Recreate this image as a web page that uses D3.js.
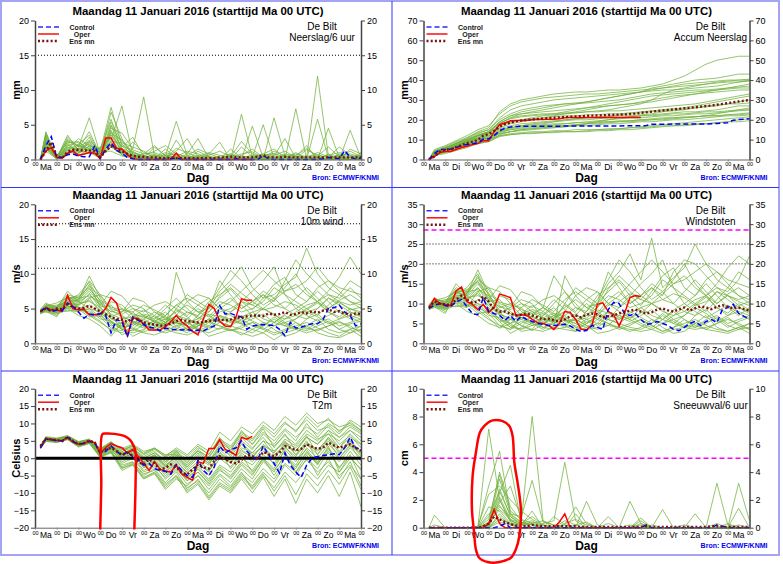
<!DOCTYPE html>
<html>
<head>
<meta charset="utf-8">
<script src="https://cdn.jsdelivr.net/npm/d3@7"></script>
<style>
  body { margin: 0; background: #fff; }
  svg { display: block; }
  text { font-family: "Liberation Sans", Arial, sans-serif; }
</style>
</head>
<body>
<svg id="chart" width="783" height="564"></svg>
<script>
// time steps (hours after start, Ma 11 jan 00 UTC)
var hours6 = d3.range(6, 361, 6);               // control + ens mean, 60 steps
var hoursOper = d3.range(6, 241, 6);            // oper runs 10 days
var hoursMember = [6].concat(d3.range(12, 361, 12)); // members, 31 steps
var dayTicks = d3.range(0, 361, 24);
var dayNames = ["Ma", "Di", "Wo", "Do", "Vr", "Za", "Zo", "Ma", "Di", "Wo", "Do", "Vr", "Za", "Zo", "Ma"];

// ---- Neerslag / 6 uur (mm)
var precipTicks = [0, 5, 10, 15, 20];
var precipLimit = [15];
var precipControl = [0,2.0,3.3,0.3,0.3,0.7,0.8,0.5,0.4,0.4,2.0,0.1,1.5,2.4,1.3,0.9,0.3,0.1,0,0,
  0,0,0,0,0.1,0.2,0,0,0,0, 0,0,0,0,0,0,0.1,0,0,0, 0,0.6,0.1,0,0,0,0,0,0,0, 0,0,0.1,0.3,0.2,0.1,1.3,0.3,0.1,0.2];
var precipOper = [0,1.2,1.7,0.3,0.2,0.9,1.2,0.6,0.8,1.0,0.9,0.1,3.1,3.1,1.6,1.5,0.7,0.1,0,0,
  0,0,0,0,0,0.9,0,0,0,0, 0,0,0,0,0,0,0,0,0,0];
var precipMean = [0,1.2,2.5,0.5,0.2,1.1,1.4,1.4,1.3,1.3,1.2,0.3,1.2,1.9,1.5,1.2,0.8,0.5,0.4,0.4,
  0.3,0.3,0.2,0.2,0.3,0.2,0.2,0.2,0.2,0.2, 0.2,0.2,0.2,0.3,0.3,0.4,0.3,0.3,0.3,0.3,
  0.4,0.6,0.3,0.3,0.3,0.4,0.3,0.3,0.3,0.3, 0.3,0.3,0.3,0.3,0.3,0.3,0.3,0.3,0.3,0.3];
var precipMembers = [
  [0,2.8,0.2,1.2,1.5,1.8,0.5,3.2,1.5,0.4, 0.2,0.8,0,0.3,0,1.2,0.4,0,0,0.6, 1.5,0.3,0,0.2,1.0,0,0.4,0,0.8,0.3, 0],
  [0,3.8,0.4,2.5,1.0,2.8,1.2,7.5,2.0,0.6, 0,0.2,1.5,0.3,0,0,0,0.2,0,0, 0,0.5,0.8,0,0,0.3,12.0,0.5,0.2,0, 0.3],
  [0,1.5,0.1,0.8,2.2,1.2,0.3,4.5,3.8,1.5, 9.0,0.5,0,0,0.2,0,0.5,0,0.8,0, 0.2,0,0,0,0,0,0,0,0.5,0, 0],
  [0,2.2,0.3,3.2,1.8,6.0,0.8,2.5,0.6,0.3, 0.2,1.8,0.5,5.5,0.6,0.2,0,0,0.3,0, 0,0.2,0,0,7.3,0,0,0,0,0, 0.2],
  [0,3.0,0.2,1.5,0.8,2.0,1.5,5.8,1.2,0.5, 0,0,0.3,1.2,3.0,0.4,0,0,1.5,0.2, 0,0,0,0,0.2,0.3,0,0.8,0,4.2, 0.2],
  [0,1.8,0,2.0,2.5,1.5,0.2,3.8,2.8,0.8, 0.3,0,0,0,0,0,0.8,2.5,0,0, 0.3,5.0,0.2,0,0,0,0.2,0,0,0, 0],
  [0,2.5,0.5,1.0,1.2,3.2,0.4,2.0,0.8,2.5, 1.0,0.3,0.2,0,0,0,0,0,0,6.5, 0.3,0,0,0.2,0,0,0,0,0,0, 1.0],
  [0,3.5,0.2,2.8,1.5,2.2,0.6,6.8,3.0,0.4, 0.8,2.0,0.5,0,0.2,0,0,0.3,0,0, 0,0,6.0,0.5,0,0,0.3,0,0,0, 0],
  [0,1.2,0.1,1.8,0.6,0.9,1.8,3.0,1.0,0.2, 0,0.4,0,0,0,0,0,0,0,0, 0.2,0.8,1.5,0.3,0,0,0,4.5,0.3,0, 0],
  [0,2.0,0.3,0.6,2.0,1.2,0.5,4.2,0.9,1.2, 0.3,0,0,0,0.8,3.0,0.2,0,0,1.8, 0.4,0,0,0,0,0,0,0,0,1.5, 0.8],
  [0,4.0,0.2,2.2,1.0,2.5,0.3,2.8,7.7,0.6, 0.2,0,0.2,0.5,0,0,0,0,0,0, 0,0,0,0.6,0,0,0,0,0,0, 0],
  [0,2.6,0.4,1.4,3.0,2.0,1.0,3.5,1.8,3.2, 0.5,0,0,2.8,0.5,0,0,0.2,0,0, 0,0,0,0,0.4,2.0,0,0,0,0, 0],
  [0,1.8,0.2,3.5,1.2,1.0,0.2,2.2,1.4,0.5, 0,0.2,0,0,0,0.2,0,0,0.5,0, 4.8,0.2,0,0,0,0,0,0,0.6,0, 0],
  [0,3.2,0.1,0.9,1.6,4.0,0.7,5.0,2.2,1.0, 0.6,0,0,0,0.2,0,0,0,0,0, 0,0,0.3,0,0,0,5.8,0.2,0,0, 0.3],
  [0,2.4,0.3,1.6,0.5,1.6,1.2,1.2,0.5,0.2, 0.2,0,0.8,0,0,0,0,0,0,0, 0,0,0,0,0.2,0,0,0,0,0.2, 0],
  [0,3.4,0.2,2.6,2.0,1.4,0.4,4.8,1.6,0.8, 0.2,0.5,0,0.2,0,0.5,0,0.3,0,0, 0,0.2,0.5,3.0,0.2,0,0.4,0,0,0, 0.2],
  [0,2.2,0.3,1.8,1.4,2.4,0.9,3.6,1.2,0.6, 0.3,0.6,0.4,0.9,0.3,0.6,0.2,0.5,0.8,0.3, 0.6,0.4,0.2,0.8,0.5,0.3,1.0,0.4,0.6,0.8, 0.4],
  [0,3.0,0.6,2.4,2.6,1.0,0.6,2.6,2.4,1.8, 1.2,0.4,0.2,1.6,1.0,0.3,0.6,1.2,0.4,2.6, 0.8,0.3,1.2,0.5,0.2,1.4,0.6,0.3,1.8,0.6, 0.3],
  [0,1.6,0.2,1.0,0.9,1.9,0.4,1.8,0.7,0.3, 0.5,1.2,2.0,0.8,0.4,0.2,0.4,0.2,0.2,0.5, 0.3,0.8,0.4,0.2,0.6,1.6,0.3,0.5,0.2,0.4, 0.6],
  [0,2.7,0.4,2.9,1.9,2.6,1.4,5.4,2.6,1.0, 0.4,0.2,0.6,0.4,1.2,0.8,0.3,0.2,0.6,0.4, 0.2,0.6,0.9,0.3,0.4,0.2,0.5,1.8,0.4,0.3, 0.5],
  [0,3.6,0.3,1.3,2.2,3.5,0.8,4.0,1.9,1.4, 0.8,1.0,0.3,0.2,0.5,1.5,0.8,0.3,0.3,0.2, 0.4,0.2,0.6,1.2,0.3,0.5,0.2,0.6,1.0,0.5, 0.2],
  [0,2.0,0.1,2.1,1.1,1.3,1.6,2.4,1.0,0.5, 0.2,0.3,1.0,0.6,0.2,0.4,1.0,0.6,0.2,0.8, 1.1,0.3,0.2,0.4,0.8,0.4,0.7,0.2,0.3,1.2, 0.4]
];

// ---- Accum Neerslag (mm)
var accumTicks = [0, 10, 20, 30, 40, 50, 60, 70];
var accumControl = [0,3.0,5.0,5.0,5.3,6.0,7.0,7.5,7.9,8.3,10.3,10.4,12.0,14.5,15.8,16.4,16.6,16.7,16.7,16.7,
  16.7,16.7,16.7,16.8,16.8,16.9,16.9,16.9,16.9,16.9, 16.9,16.9,16.9,16.9,16.9,16.9,17.0,17.0,17.0,17.0,
  17.1,17.7,17.8,17.8,17.8,17.9,17.9,17.9,17.9,17.9, 17.9,17.9,18.0,18.1,18.3,18.5,19.8,20.1,20.3,20.5];
var accumOper = [0,1.5,3.5,4.0,4.0,5.0,6.0,6.7,7.5,8.0,9.5,9.5,14.0,17.5,18.5,19.5,19.6,19.7,19.8,20.0,
  20.1,20.2,20.3,20.3,20.5,21.0,21.1,21.1,21.1,21.1, 21.1,21.1,21.1,21.1,21.1,21.1,21.1,21.1,21.1,21.1];
var accumMean = [0,1.5,4.0,5.0,5.2,6.2,7.2,8.3,9.0,9.8,12.0,12.8,14.5,16.5,17.8,18.6,19.2,19.6,19.9,20.2,
  20.4,20.6,20.8,21.0,21.2,21.4,21.5,21.7,21.8,22.0, 22.1,22.2,22.3,22.4,22.5,22.6,22.7,22.9,23.1,23.5,
  23.8,24.1,24.4,24.7,25.0,25.2,25.5,25.8,26.0,26.3, 26.6,26.9,27.2,27.6,28.0,28.4,28.8,29.2,29.6,30.0];
var accumMembers = [
  [0,3,5,7,9,11,13,17,19,20, 20.5,21,21.5,22,22,22.5,22.5,23,23,23.5, 24,24.5,25,25.5,26,27,28,29,30,31, 32],
  [0,2,3,4.5,6,8,9,12,13,13.5, 14,14,14.5,14.5,15,15,15,15.5,15.5,16, 16,16.5,17,17,17.5,18,18,18.5,19,19, 19.5],
  [0,4,6,8,11,14,16,24,28,30, 31,32,33,33.5,34,34,34.5,35,35,35.5, 36,37,38,40,42,45,48,50,51,52, 52],
  [0,3,4,6,8,10,12,15,16,17, 18,18.5,19,19.5,20,20,20.5,21,21,21.5, 22,22,22.5,23,23,23.5,24,24,24.5,25, 25],
  [0,3.5,5.5,8,10,12,14,18,21,23, 24,25,26,27,28,29,30,31,32,33, 34,36,37,38,39,40,40.5,41,42,43, 43],
  [0,2.5,4,6,7.5,9,10,13,14,15, 15.5,16,16,16.5,17,17,17.5,18,18,18.5, 19,19,19.5,20,20,20.5,21,21.5,22,22, 22.5],
  [0,4.5,6.5,9,11,13.5,15,20,23,25, 26,27,27.5,28,28,28.5,29,29.5,30,31, 32,33,33.5,34,34.5,35,35,35.5,36,36.5, 37],
  [0,3,4.5,6.5,8.5,10.5,11.5,14.5,16,17, 17.5,18,19,20,20.5,21,21,21.5,22,22, 22.5,23,24,24.5,25,26,27,27.5,28,28, 28.5],
  [0,2,3.5,5,6.5,8,9,11.5,12.5,13, 13.5,13.5,14,14,14,14,14.5,14.5,15,15, 15.5,16,16.5,17,17,17.5,18,18.5,19,20, 20.5],
  [0,3.5,5,7,9.5,12,13,17,18.5,20, 21,22,22.5,23,23.5,24,24.5,25,26,27, 28,30,33,35,36,37,38,39,39.5,40, 40],
  [0,4,6,8.5,10,12.5,14,19,22,24, 25,26,27,28,28.5,29,30,31,32,33, 34,35,36,37,38,38.5,39,39.5,40,40, 40.5],
  [0,2.5,4,5.5,7,9,10.5,13.5,15,16, 16.5,17,17.5,18,18.5,19,19.5,20,20.5,21, 21,21.5,22,22,22.5,23,23,23.5,24,24.5, 25],
  [0,3,5,7.5,9.5,11,12.5,16,18,19, 20,21,22,23,24,25,26,27,27.5,28, 29,30,31,32,32.5,33,33.5,34,34.5,35, 35],
  [0,3.5,5,7,8.5,10,11,13,14,14.5, 15,15.5,16,16.5,17,18,19,20,21,21.5, 22,22.5,23,23.5,24,24,24.5,25,26,27, 27],
  [0,2.5,4.5,6.5,8,9.5,11,14,15,15.5, 16,16.5,17,17,17.5,18,18,18.5,19,19, 19.5,20,20,20.5,21,21.5,22,23,24,25, 26],
  [0,5,7,9.5,12,15,17,23,27,29, 30,31,31.5,32,32.5,33,33,33.5,34,34.5, 35,35.5,36,36.5,37,37.5,38,38.5,39,39, 39.5],
  [0,3.2,5.2,7.2,9.2,11.5,13.5,18,21,22, 22.5,23,23,23.5,23.5,24,24,24.5,24.5,25, 25.5,26,26.5,27,27.5,28,29,30,31,32, 33],
  [0,2.8,4.5,6.5,8,10,11,14,15.5,16.5, 17,17.5,18,18,18.5,18.5,19,19,19.5,19.5, 20,20,20.5,21,21,21.5,22,22,22.5,23, 23.5],
  [0,4.2,6,8,10.5,13,15,21,25,27, 28,29,30,30.5,31,31.5,32,32.5,33,33.5, 34,34.5,35,35,35.5,36,36.5,37,38,39, 40],
  [0,3,4.8,6.8,8.8,10.8,12,15.5,17,18, 18.5,19,19.5,20,20.5,21,21.5,22,22.5,23, 23.5,24,24.5,25,25.5,26,26.5,27,28,29, 30],
  [0,2.2,3.8,5.5,7,8.5,9.5,12.5,14,15, 15.5,16,16.5,17,17.5,18,18.5,19,19,19.5, 20,20.5,21,21,21.5,21.5,22,22,22.5,22.5, 23],
  [0,3.8,5.8,8,10,12,14,18.5,20.5,21.5, 22,22.5,23,24,25,26,27,28,29,30, 31,32,32.5,33,33.5,34,34.5,35,35.5,36, 36],
  [0,3,4.5,6,7.5,9,10,12,12.5,13, 13,13.5,13.5,14,14,14.5,15,15,15.5,16, 16.5,17,17.5,18,18.5,19,19.5,20,20.5,21, 21.5],
  [0,3.5,5.5,7.5,9.5,12,14,19,22,23, 23.5,24,24.5,25,25.5,26,26.5,27,27.5,28, 28.5,29,30,31,32,33,34,35,36,37, 38]
];

// ---- 10m wind (m/s)
var windTicks = [0, 5, 10, 15, 20];
var windLimits = [10.8, 13.9, 17.2];
var windControl = [4.6,5.2,4.5,4.8,4.7,5.8,5.3,4.5,3.6,4.2,4.1,4.3,4.0,1.5,3.4,3.1,0.9,3.8,3.3,2.7,
  2.3,2.2,1.8,2.2,2.0,2.0,1.9,2.0,1.8,1.9, 1.8,2.2,2.5,5.4,4.2,4.3,4.0,3.8,2.0,2.5,
  2.6,2.7,2.6,2.6,2.0,1.1,3.0,2.2,2.3,2.6, 2.8,2.8,3.4,5.0,5.1,5.5,4.5,4.0,2.5,2.8];
var windOper = [4.5,5.1,4.8,4.8,4.6,6.9,5.0,4.8,4.9,4.1,4.1,4.2,5.0,6.6,5.8,3.5,1.1,3.7,3.5,2.8,
  1.9,1.9,1.9,2.4,3.1,4.0,3.1,2.5,1.7,1.2, 3.5,5.6,5.0,3.2,2.5,2.4,3.8,6.4,6.2,6.2];
var windMean = [4.6,5.0,4.7,5.0,4.9,5.6,5.2,5.0,5.1,5.4,5.0,4.6,4.2,3.8,3.5,3.4,3.1,3.6,3.4,3.0,
  2.8,2.7,2.5,2.6,2.8,3.2,3.4,3.2,3.1,3.0, 3.1,3.2,3.3,3.4,3.3,3.4,3.8,3.6,3.9,4.0,
  4.0,3.9,4.3,4.1,4.2,4.5,4.1,4.2,4.5,4.3, 4.6,4.4,4.7,4.9,4.5,4.6,4.3,4.1,4.3,4.2];
var windMembers = [
  [4.6,5.2,4.8,6.0,5.5,7.2,5.0,3.5,2.8,3.0, 2.5,2.2,3.0,4.0,3.5,2.8,3.2,4.5,5.0,6.0, 5.5,4.8,5.2,6.0,5.5,4.5,5.0,6.5,5.8,5.0, 4.5],
  [4.2,4.8,4.0,5.5,6.2,9.7,6.5,4.0,2.0,1.5, 2.0,3.0,2.5,1.8,2.2,3.0,2.5,2.0,3.5,2.8, 2.0,1.5,2.5,3.0,2.2,1.8,2.5,3.2,2.0,1.5, 2.0],
  [4.8,5.5,5.2,6.8,5.0,4.5,3.8,6.0,5.5,4.0, 3.2,2.8,2.0,10.2,6.0,4.5,5.0,7.5,9.0,11.0, 8.0,6.5,7.0,8.5,9.5,13.7,10.0,8.0,7.0,9.0, 8.0],
  [4.5,5.0,4.5,5.2,4.8,5.5,4.2,2.5,3.0,2.0, 1.5,1.2,1.8,2.5,3.0,2.0,1.5,2.2,1.8,2.5, 3.0,2.0,1.2,1.8,2.5,3.0,2.2,1.5,1.0,2.0, 2.5],
  [4.4,4.6,3.8,6.5,6.8,8.0,5.5,7.5,6.8,5.0, 4.5,5.5,6.0,5.0,4.0,5.5,6.5,5.0,4.5,6.0, 7.5,9.0,11.0,7.0,6.0,5.0,4.0,5.5,7.0,6.0, 5.0],
  [4.7,5.3,5.5,5.8,5.2,4.0,3.0,2.0,1.5,2.5, 3.5,2.5,2.0,1.5,1.2,1.8,2.5,4.0,3.5,3.0, 4.5,5.0,4.0,3.5,4.5,5.5,6.0,4.5,3.5,4.0, 3.5],
  [4.3,4.5,4.2,4.8,4.5,6.5,7.0,5.0,4.5,6.5, 6.0,4.5,3.5,3.0,2.5,4.0,5.5,8.0,10.5,9.0, 7.0,5.5,6.5,8.0,10.0,7.5,6.0,7.5,9.5,12.4, 10.0],
  [4.9,5.8,5.0,7.5,6.0,5.0,4.5,3.0,2.5,1.0, 1.8,3.5,4.5,3.0,2.0,1.5,2.0,3.0,2.5,2.0, 1.5,2.5,3.5,2.5,2.0,1.5,2.0,2.5,3.0,2.5, 1.5],
  [4.5,4.9,4.4,5.0,4.0,3.5,2.5,1.0,3.0,4.5, 3.0,2.0,1.5,2.0,3.5,5.0,4.0,3.0,4.5,5.5, 4.0,3.0,2.5,3.5,4.0,3.5,5.0,6.5,5.5,4.5, 4.0],
  [4.6,5.1,4.6,6.2,7.0,8.8,6.0,4.5,5.0,3.5, 4.0,3.5,5.0,6.5,5.0,3.5,4.5,6.0,5.5,4.5, 5.0,6.0,8.0,7.0,5.0,6.0,7.5,6.0,4.5,3.5, 4.5],
  [4.8,5.0,4.9,5.5,5.8,6.0,5.2,5.5,4.0,3.0, 2.5,2.0,2.5,3.0,2.5,2.0,3.0,2.5,2.0,1.5, 1.0,1.5,0.5,1.5,2.0,2.5,1.5,1.0,0.8,1.5, 2.5],
  [4.4,5.4,5.8,6.6,6.0,7.5,5.8,4.2,3.5,3.8, 4.8,4.0,3.0,4.0,6.0,7.0,6.5,5.0,6.0,7.5, 9.0,10.5,9.0,7.5,8.0,9.0,11.0,9.0,8.0,7.5, 7.0],
  [4.5,4.7,4.3,5.3,5.2,4.8,3.5,3.2,2.0,2.8, 2.2,2.6,3.5,2.5,1.8,2.5,3.5,3.0,2.5,3.5, 2.5,2.0,3.0,4.0,3.0,2.0,3.0,3.5,2.5,3.0, 3.5],
  [4.7,5.6,5.3,7.0,6.5,6.8,6.0,3.8,4.5,5.5, 5.0,3.0,2.8,5.0,7.0,6.0,5.0,9.0,7.0,5.0, 6.0,7.0,5.5,5.0,6.5,8.0,6.5,5.0,6.0,5.5, 6.0],
  [4.3,4.9,4.7,4.6,4.9,3.8,4.0,2.8,1.2,2.0, 3.5,4.5,3.8,2.8,3.0,2.2,1.0,1.5,2.0,1.2, 2.0,3.0,2.0,1.0,1.5,2.5,3.5,2.0,1.5,2.0, 1.0],
  [4.6,5.0,5.1,5.9,6.4,9.0,7.0,6.5,5.0,4.2, 3.8,3.2,4.0,5.5,4.5,4.0,6.0,7.0,8.0,6.5, 5.5,7.0,6.0,9.0,12.0,10.0,8.5,7.0,6.5,8.0, 6.5],
  [4.5,5.0,4.6,5.6,5.6,6.2,4.8,3.2,2.2,2.8, 3.8,3.2,2.5,3.5,4.5,3.8,3.0,4.0,3.2,2.8, 3.5,4.2,3.0,2.5,3.5,4.5,3.8,2.8,3.5,4.5, 3.8],
  [4.7,5.3,5.0,6.4,6.6,8.2,6.8,4.8,3.8,3.2, 2.8,4.0,5.5,4.2,3.0,3.5,5.0,6.5,7.8,6.0, 4.8,6.5,8.5,9.5,7.0,6.0,8.0,9.0,7.5,6.0, 5.5],
  [4.4,4.7,4.5,5.1,4.6,5.0,3.8,2.2,1.8,3.2, 2.5,1.8,2.8,3.5,2.0,2.8,2.2,3.5,3.0,4.0, 3.2,2.5,3.8,2.8,2.0,3.5,4.2,3.0,2.0,2.8, 3.2],
  [4.6,5.1,5.3,6.1,5.9,7.0,5.5,4.6,4.2,5.0, 4.0,3.0,3.5,4.5,5.5,4.5,3.8,5.5,6.5,5.0, 6.0,7.5,6.5,5.0,4.0,5.0,6.0,7.0,6.0,4.8, 5.2],
  [4.5,4.8,4.4,5.4,5.0,4.2,3.2,1.8,2.5,3.8, 4.2,3.8,3.0,2.2,1.5,2.5,3.2,2.5,1.8,2.2, 3.0,2.2,1.5,2.0,3.0,2.2,1.8,2.5,3.2,2.2, 1.8],
  [4.8,5.4,5.0,6.7,6.3,7.8,6.2,5.2,4.8,4.5, 5.5,4.8,4.0,5.5,6.5,5.5,4.5,6.8,8.5,7.2, 6.0,5.0,6.2,7.5,8.5,7.0,6.0,5.0,6.2,7.0, 6.0],
  [4.4,4.9,4.7,5.7,5.4,6.6,4.4,3.0,2.0,1.8, 2.6,3.2,3.8,3.2,2.8,3.2,4.2,3.8,3.0,3.8, 4.5,3.5,3.0,4.2,5.0,4.0,3.2,4.0,4.8,3.8, 3.0],
  [4.6,5.3,4.8,6.3,6.1,8.5,5.2,3.6,3.2,2.2, 1.6,2.4,3.2,4.8,3.8,2.5,3.5,5.0,4.0,3.2, 3.8,5.0,4.2,3.0,3.5,4.8,5.8,4.5,3.8,5.0, 4.2]
];

// ---- Windstoten (m/s)
var gustTicks = [0, 5, 10, 15, 20, 25, 30, 35];
var gustLimits = [20, 25];
var gustWarning = [28.5];
var gustControl = [8.8,9.6,10.0,9.5,9.2,10.5,11.0,9.2,7.5,7.2,11.5,8.0,7.5,7.0,5.8,7.0,5.5,6.8,6.0,5.5,
  5.0,4.8,4.5,4.5,4.6,4.8,4.4,3.5,3.0,3.2, 4.5,4.0,3.5,8.5,10.3,10.0,7.5,7.0,7.5,6.0,
  4.8,5.0,5.5,5.0,4.5,3.5,3.2,4.0,5.0,5.5, 4.5,5.5,6.0,5.2,8.5,9.0,9.8,7.5,6.8,6.0];
var gustOper = [8.8,11.3,10.0,9.8,9.5,13.2,14.2,10.5,9.8,8.5,9.8,7.8,9.0,12.4,12.0,11.5,7.0,7.2,7.0,6.0,
  5.2,5.0,4.5,3.5,5.0,8.0,7.8,6.0,3.5,3.4, 4.5,9.8,10.2,8.0,7.2,4.3,7.5,11.5,12.0,11.8];
var gustMean = [9.0,10.5,10.0,9.8,9.6,11.0,12.0,11.0,10.2,10.5,11.8,10.5,8.5,8.0,8.0,7.5,7.0,7.2,7.5,7.0,
  6.5,6.0,6.2,5.8,5.5,6.0,6.8,7.0,6.5,7.2, 7.5,7.3,6.5,6.8,7.0,7.5,8.0,8.2,8.5,8.0,
  7.5,7.8,8.5,8.8,8.3,8.0,8.5,9.0,8.2,8.8, 9.3,9.0,8.6,9.2,9.6,9.2,8.8,9.0,8.6,8.2];
var gustMembers = [
  [9.0,10.5,9.5,12.0,11.0,14.0,10.0,7.5,6.0,6.5, 5.5,5.0,6.5,8.0,7.0,6.0,7.0,9.5,10.5,12.5, 11.0,10.0,11.0,12.5,11.5,9.5,10.5,13.0,12.0,10.5, 9.5],
  [8.5,9.5,8.0,11.0,12.5,18.5,12.5,8.0,4.5,3.5, 4.5,6.0,5.5,4.0,4.5,6.0,5.0,4.5,7.0,6.0, 4.5,3.5,5.0,6.0,4.5,4.0,5.0,6.5,4.5,3.5, 4.0],
  [9.5,11.0,10.5,13.5,10.5,9.0,7.5,12.0,11.0,8.0, 6.5,5.5,4.5,17.0,12.0,9.0,10.0,15.0,18.0,22.5, 16.0,26.5,14.0,16.5,19.0,25.0,20.0,16.0,14.0,18.0, 16.0],
  [8.8,9.8,9.0,10.5,9.5,11.0,8.5,5.5,6.0,4.5, 3.5,3.0,4.0,5.0,6.0,4.5,3.5,4.5,4.0,5.0, 6.0,4.5,3.0,4.0,5.0,6.0,4.5,3.5,3.0,4.0, 5.0],
  [8.6,9.2,7.5,13.0,13.5,15.5,11.0,14.5,13.5,10.0, 9.0,11.0,12.0,10.0,8.0,11.0,13.0,10.0,9.0,12.0, 15.0,17.5,21.0,14.0,12.0,10.0,8.0,11.0,14.0,12.0, 10.0],
  [9.3,10.5,11.0,11.5,10.5,8.0,6.0,4.5,3.5,5.0, 7.0,5.0,4.0,3.5,3.0,4.0,5.0,8.0,7.0,6.0, 9.0,10.0,8.0,7.0,9.0,11.0,12.0,9.0,7.0,8.0, 7.0],
  [8.5,9.0,8.5,9.5,9.0,13.0,14.0,10.0,9.0,13.0, 12.0,9.0,7.0,6.0,5.0,8.0,11.0,16.0,21.0,18.0, 14.0,11.0,13.0,16.0,20.0,15.0,12.0,15.0,19.0,22.0, 20.0],
  [9.6,11.5,10.0,15.0,12.0,10.0,9.0,6.0,5.0,3.0, 3.5,7.0,9.0,6.0,4.0,3.5,4.0,6.0,5.0,4.0, 3.5,5.0,7.0,5.0,4.0,3.5,4.0,5.0,6.0,5.0, 3.5],
  [9.0,9.8,8.8,10.0,8.0,7.0,5.0,4.0,6.0,9.0, 6.0,4.0,3.5,4.0,7.0,10.0,8.0,6.0,9.0,11.0, 8.0,6.0,5.0,7.0,8.0,7.0,10.0,13.0,11.0,9.0, 8.0],
  [9.2,10.2,9.2,12.5,14.0,17.5,12.0,9.0,10.0,7.0, 8.0,7.0,10.0,13.0,10.0,7.0,9.0,12.0,11.0,9.0, 10.0,12.0,16.0,14.0,10.0,12.0,15.0,12.0,9.0,7.0, 9.0],
  [9.5,10.0,9.8,11.0,11.5,12.0,10.5,11.0,8.0,6.0, 5.0,4.0,5.0,6.0,5.0,4.0,6.0,5.0,4.0,3.5, 3.0,3.5,2.5,3.5,4.0,5.0,3.5,3.0,2.5,3.5, 5.0],
  [8.8,10.8,11.5,13.0,12.0,15.0,11.5,8.5,7.0,7.5, 9.5,8.0,6.0,8.0,12.0,14.0,13.0,10.0,12.0,15.0, 18.0,21.0,18.0,15.0,16.0,18.0,20.0,18.0,16.0,15.0, 14.0],
  [9.0,9.4,8.6,10.5,10.4,9.5,7.0,6.5,4.0,5.5, 4.5,5.0,7.0,5.0,3.5,5.0,7.0,6.0,5.0,7.0, 5.0,4.0,6.0,8.0,6.0,4.0,6.0,7.0,5.0,6.0, 7.0],
  [9.4,11.2,10.5,14.0,13.0,13.5,12.0,7.5,9.0,11.0, 10.0,6.0,5.5,10.0,14.0,12.0,10.0,18.0,14.0,10.0, 12.0,14.0,11.0,10.0,13.0,16.0,13.0,10.0,12.0,11.0, 12.0],
  [8.6,9.8,9.4,9.2,9.8,7.5,8.0,5.5,2.5,4.0, 7.0,9.0,7.5,5.5,6.0,4.5,2.5,3.0,4.0,3.0, 4.0,6.0,4.0,2.5,3.0,5.0,7.0,4.0,3.0,4.0, 2.5],
  [9.2,10.0,10.2,11.8,12.8,16.0,14.0,13.0,10.0,8.5, 7.5,9.0,17.0,13.0,9.0,8.0,12.0,14.0,16.0,13.0, 11.0,14.0,12.0,18.0,21.0,20.0,17.0,14.0,13.0,16.0, 22.0],
  [9.0,10.2,9.3,11.5,11.2,12.5,9.5,7.0,5.0,6.0, 7.5,6.5,5.0,7.0,9.0,7.5,6.0,8.0,6.5,5.5, 7.0,8.5,6.0,5.0,7.0,9.0,7.5,5.5,7.0,9.0, 7.5],
  [9.3,10.6,10.0,12.8,13.2,16.5,13.5,9.5,7.5,6.5, 5.5,8.0,11.0,8.5,6.0,7.0,10.0,13.0,15.5,12.0, 9.5,13.0,17.0,19.0,14.0,12.0,16.0,18.0,15.0,12.0, 11.0],
  [8.8,9.4,9.0,10.2,9.2,10.0,7.5,4.5,3.5,6.5, 5.0,3.5,5.5,7.0,4.0,5.5,4.5,7.0,6.0,8.0, 6.5,5.0,7.5,5.5,4.0,7.0,8.5,6.0,4.0,5.5, 6.5],
  [9.2,10.2,10.6,12.2,11.8,14.0,11.0,9.2,8.5,10.0, 8.0,6.0,7.0,9.0,11.0,9.0,7.5,11.0,13.0,10.0, 12.0,15.0,13.0,10.0,8.0,10.0,12.0,14.0,12.0,9.5, 10.5],
  [9.0,9.6,8.8,10.8,10.0,8.5,6.5,3.8,5.0,7.5, 8.5,7.5,6.0,4.5,3.0,5.0,6.5,5.0,3.5,4.5, 6.0,4.5,3.0,4.0,6.0,4.5,3.5,5.0,6.5,4.5, 3.5],
  [9.6,10.8,10.0,13.4,12.6,15.6,12.4,10.4,9.6,9.0, 11.0,9.6,8.0,11.0,13.0,11.0,9.0,13.6,17.0,14.4, 12.0,10.0,12.4,15.0,17.0,14.0,12.0,10.0,12.4,14.0, 12.0],
  [8.8,9.8,9.4,11.4,10.8,13.2,8.8,6.0,4.0,3.6, 5.2,6.4,7.6,6.4,5.6,6.4,8.4,7.6,6.0,7.6, 9.0,7.0,6.0,8.4,10.0,8.0,6.4,8.0,9.6,7.6, 6.0],
  [9.2,10.6,9.6,12.6,12.2,17.0,10.4,7.2,6.4,4.4, 3.2,4.8,6.4,9.6,7.6,5.0,7.0,10.0,8.0,6.4, 7.6,10.0,8.4,6.0,7.0,9.6,11.6,9.0,7.6,10.0, 8.4]
];

// ---- T2m (Celsius)
var t2mTicks = [-20, -15, -10, -5, 0, 5, 10, 15, 20];
var t2mControl = [3.0,5.5,5.3,5.0,5.0,6.0,4.8,4.0,4.3,4.8,4.5,1.3, 2.0,3.5,2.0,0.8,1.8,0.5,-0.5,-2.0,
  -1.5,-3.0,-3.5,-3.8,-4.6,-1.8,-3.5,-5.0,-5.5,-0.5, -3.5,-5.0,-2.5,3.5,1.5,2.5,3.0,5.0,2.0,0.5,
  -0.5,3.5,1.0,-1.5,-4.3,1.5,-2.0,-4.0,-5.5,-2.0, 0.0,0.5,0.8,1.0,1.3,1.0,3.0,6.0,3.0,2.5];
var t2mOper = [3.2,5.6,5.4,5.2,5.0,6.0,4.6,4.0,4.2,5.0,4.5,1.5,3.0,4.2,3.5,3.0,1.5,2.5,0.5,-1.5,
  -3.5,-1.0,-3.2,-3.7,-4.0,-2.0,-4.5,-5.5,-6.3,-1.0, -1.5,2.8,2.8,5.3,2.5,1.8,0.8,6.0,5.5,6.3];
var t2mMean = [3.5,5.6,5.4,5.2,4.9,6.1,4.9,4.0,4.3,5.1,4.5,1.6,2.5,3.0,2.1,0.9,1.6,0.6,-1.1,-1.8,
  -0.3,-1.5,-3.2,-2.8,-1.8,-2.5,-4.2,-4.7,-3.2,-1.8, -2.7,-3.0,-0.8,0.6,-0.3,-1.1,-1.5,-0.5,0.9,0.6,
  -0.3,1.8,1.1,0.6,1.6,3.5,3.0,2.3,2.7,4.0, 3.3,2.7,3.0,4.5,3.7,3.0,3.5,4.0,3.0,2.1];
var t2mMembers = [
  [3.2,5.5,5.2,6.0,4.2,5.0,1.8,3.5,1.0,2.0, -1.5,0.0,-3.0,-1.0,-4.0,-2.0,-3.5,0.5,-1.0,2.0, 0.5,3.5,2.0,4.5,3.0,6.0,4.0,7.0,5.0,8.0, 6.0],
  [3.5,6.0,5.5,6.3,4.5,5.3,2.5,4.5,2.5,3.5, 1.0,2.5,0.5,3.0,1.0,4.0,2.0,7.5,5.0,9.0, 7.0,10.5,8.0,12.0,9.5,13.0,10.0,11.0,9.0,10.0, 8.0],
  [2.8,5.0,4.8,5.5,3.5,4.5,0.5,2.0,-2.0,-1.0, -5.0,-3.0,-7.0,-4.0,-9.0,-6.0,-11.0,-7.0,-9.0,-5.0, -8.0,-4.0,-7.0,-2.0,-5.0,0.0,-3.0,2.0,-1.0,3.0, 0.0],
  [3.0,5.2,5.0,5.8,4.0,4.6,1.5,3.0,0.0,1.5, -2.5,-1.0,-4.5,-2.0,-6.0,-3.0,-6.0,-2.0,-4.0,0.0, -2.0,2.0,0.0,4.0,2.0,6.0,4.0,8.0,6.0,9.0, 7.0],
  [3.6,6.2,5.8,6.5,4.8,5.5,2.8,4.8,2.0,3.0, 0.0,1.5,-1.0,2.0,-1.5,2.5,0.0,5.0,3.0,7.0, 5.0,9.0,6.0,10.0,8.0,11.0,8.0,9.0,6.0,8.0, 5.0],
  [3.1,5.4,5.0,5.9,4.1,4.8,1.0,2.5,-1.0,0.5, -3.5,-2.0,-6.0,-3.5,-7.5,-5.0,-8.0,-4.5,-7.0,-3.0, -6.0,-1.0,-4.0,1.0,-2.0,3.0,0.0,4.0,1.0,5.0, 2.0],
  [3.3,5.6,5.3,6.1,4.3,5.1,2.0,3.8,1.5,2.5, -0.5,1.0,-2.0,0.5,-3.0,0.0,-2.0,3.0,1.0,5.0, 2.5,7.0,4.0,8.0,5.0,10.0,6.0,9.5,7.0,10.5, 8.0],
  [2.9,5.1,4.7,5.6,3.8,4.4,0.8,2.2,-3.0,-1.5, -5.5,-4.0,-8.0,-5.0,-10.0,-7.5,-12.0,-8.0,-10.0,-6.0, -10.0,-5.5,-11.0,-6.0,-13.0,-6.0,-10.0,-5.0,-11.0,-4.0, -14.0],
  [3.4,5.8,5.4,6.2,4.6,5.2,2.2,4.2,1.8,3.8, 1.5,3.0,0.8,2.5,0.5,3.5,1.0,6.0,2.0,8.0, 4.0,8.5,3.0,7.0,2.0,6.5,1.0,5.0,0.0,4.0, -1.0],
  [3.0,5.3,4.9,5.7,3.9,4.7,1.2,2.8,-0.5,1.0, -2.0,-0.5,-3.5,-1.5,-5.0,-2.5,-5.0,0.0,-2.5,1.5, -1.0,3.0,-2.0,2.0,-4.0,1.0,-5.0,0.0,-6.0,-1.0, -8.0],
  [3.5,5.7,5.6,6.4,4.7,5.4,2.6,4.0,0.5,1.8, -1.0,0.5,-2.5,-0.5,-4.5,-1.5,-4.0,1.5,-0.5,3.0, 1.5,5.0,3.5,6.5,4.0,8.0,5.5,7.0,3.0,6.0, 4.0],
  [2.7,4.8,4.5,5.3,3.2,4.2,0.2,1.5,-3.5,-2.0, -6.0,-4.5,-9.0,-6.0,-8.0,-5.0,-9.0,-5.0,-8.0,-4.0, -9.0,-5.0,-8.5,-4.0,-7.0,-3.0,-6.0,-2.0,-4.0,0.0, -3.0],
  [3.2,5.4,5.1,6.0,4.4,4.9,1.6,3.3,0.5,2.2, -1.0,1.0,-1.5,1.5,-2.0,1.5,-1.0,4.0,1.5,6.0, 3.0,6.0,2.0,5.0,1.0,4.0,2.0,6.0,3.0,7.0, 4.0],
  [3.3,5.9,5.5,6.1,4.5,5.0,2.3,4.4,2.8,4.0, 2.0,2.8,1.0,1.0,-0.5,2.0,-0.5,2.5,-0.5,4.0, 1.0,3.5,0.0,4.5,1.0,5.0,-1.0,3.0,-3.0,2.0, -2.0],
  [2.9,5.2,4.9,5.5,3.6,4.5,0.9,2.6,-1.5,0.0, -4.0,-2.5,-5.5,-3.0,-6.5,-4.0,-7.0,-3.0,-6.0,-2.0, -5.0,0.0,-3.0,2.5,-1.0,4.0,1.0,6.0,2.0,5.0, 1.0],
  [3.4,5.5,5.2,5.9,4.2,4.8,1.7,3.6,1.2,2.8, 0.5,2.0,-1.0,1.0,-2.5,1.0,-1.5,2.0,-3.0,1.0, -4.0,0.0,-5.0,0.0,-3.0,2.0,-2.0,3.5,-4.0,1.0, -6.0],
  [3.2,5.6,5.3,6.0,4.4,5.0,1.4,3.0,0.2,1.2, -2.8,-1.5,-5.0,-2.5,-6.5,-4.0,-7.5,-3.5,-5.5,-1.5, -4.5,-0.5,-3.5,0.5,-2.5,1.5,-1.5,2.5,0.0,3.5, 1.5],
  [3.4,5.7,5.4,6.2,4.6,5.2,2.4,4.2,1.0,2.6, 0.0,1.5,-0.5,1.8,-1.0,2.0,0.5,4.5,2.5,6.5, 4.0,7.5,5.0,8.5,6.0,9.0,7.0,10.0,8.0,9.5, 7.5],
  [3.0,5.1,4.8,5.6,3.8,4.4,0.6,1.8,-2.5,-1.2, -4.5,-3.5,-7.5,-5.0,-8.5,-6.5,-10.0,-6.0,-8.5,-4.5, -7.0,-3.0,-6.0,-1.5,-4.0,-0.5,-4.0,-1.0,-5.0,-2.0, -6.0],
  [3.3,5.5,5.2,5.9,4.3,4.9,1.9,3.4,1.4,2.4, -0.5,0.5,-2.0,0.0,-3.5,-1.0,-3.0,1.0,-1.5,2.5, 0.0,4.0,1.5,5.5,3.5,7.0,5.0,8.0,4.0,6.5, 3.0],
  [3.1,5.3,5.0,5.7,4.0,4.7,1.3,2.9,-0.2,1.4, -2.2,-0.8,-3.8,-1.8,-5.5,-3.2,-6.5,-2.5,-5.0,-1.0, -3.5,1.0,-1.5,3.0,0.5,4.5,2.5,5.5,1.5,4.5, 0.5],
  [3.5,5.9,5.6,6.3,4.7,5.3,2.6,4.6,2.4,3.4, 1.2,2.8,0.2,2.2,-0.5,3.0,1.2,5.5,3.5,7.5, 5.5,9.5,7.0,10.5,7.5,12.0,9.0,11.5,7.5,11.0, 9.0],
  [2.8,5.0,4.6,5.4,3.4,4.3,0.4,1.8,-2.8,-1.8, -5.8,-4.2,-8.5,-5.5,-9.5,-7.0,-11.5,-7.5,-9.5,-5.5, -8.5,-4.5,-9.5,-5.0,-10.5,-4.5,-8.0,-3.5,-7.5,-2.5, -9.0],
  [3.2,5.4,5.1,5.8,4.2,4.8,1.5,3.2,0.8,2.0, -1.2,0.8,-2.5,0.8,-2.5,0.5,-1.5,3.5,0.5,4.5, 1.5,5.0,1.0,3.5,-0.5,2.5,-1.5,1.5,-2.5,0.5, -3.5]
];
// hand-drawn red marking on the T2m panel (day, Celsius)
var t2mMarkDays = [3.0, 3.05, 3.1, 3.25, 3.65, 4.1, 4.35, 4.5, 4.62, 4.63, 4.57];
var t2mMarkTemp = [-20.5, -8, 6.9, 7.1, 7.0, 6.4, 5.4, 4.0, 2.0, -6, -20.5];

// ---- Sneeuwval / 6 uur (cm)
var snowTicks = [0, 2, 4, 6, 8, 10];
var snowWarning = [5];
var snowControl = [0,0,0,0,0,0,0,0,0,0, 0,0,0,0.1,0.3,0,0,0,0,0, 0,0,0,0,0,0,0,0,0,0,
  0,0,0,0,0,0,0,0,0,0, 0.2,0,0,0,0,0,0,0,0,0, 0,0,0,0.2,0.1,0,0,0,0,0];
var snowOper = [0,0,0,0,0,0,0,0,0,0, 0,0.3,1.3,0.3,0,0,0,0,0,0, 0,0,0,0,0.4,1.0,0,0,0,0, 0,0,0,0,0,0,0,0,0,0];
var snowMean = [0,0,0,0,0,0,0,0,0,0, 0.1,0.3,0.8,0.6,0.4,0.25,0.15,0.1,0.1,0.2,
  0.15,0.1,0.1,0.1,0.1,0.1,0.1,0.1,0.05,0.05, 0.05,0.05,0.05,0.05,0.05,0.05,0.05,0.05,0.05,0.05,
  0.1,0.05,0.05,0.05,0.05,0.05,0.05,0.05,0.05,0.05, 0.05,0.05,0.1,0.1,0.05,0.05,0.05,0.05,0.05,0.05];
var snowMembers = [
  [0,0,0,0,0,0,7.1,2.0,0.5,0.2, 0.3,0,0,0,0,0,0,0,0,0, 0,0,0,0,0,0,0,0,0,0, 0],
  [0,0.9,0,0,0,0,0.1,2.5,4.5,0.3, 0.2,0,0,0,0,0,0,0,0,0, 0.2,0,0,0,0,0,0,0,0,0, 0],
  [0,0,0,0,0,0,0.3,4.0,1.5,0.5, 8.0,0.5,0,0,0,0,0,0,0,0, 0,0,0,0,0,0,0,0,0,0, 0],
  [0,0,0,0,0,0,3.0,5.5,1.0,0.8, 3.4,0.4,0.2,0,0,0,0,0,0,0, 0,0,0,0,0,0,0,0,0,0, 0],
  [0,0,0,0,0,0,0.2,1.5,0.8,0.2, 0,0.3,0.5,4.7,0.5,0,0,0,0,0, 0,0,0,0,0,0,0,0,0,0, 0],
  [0,0,0,0,0,0.1,2.4,3.0,2.0,1.2, 0.6,0.2,0,0.2,1.5,0.3,0,0,0,0, 0,0,0,0,0,0,0,0,0,0, 0],
  [0,0,0,0,0,0,0,2.0,0.4,0, 0,0,0,0,0,1.9,0.2,0,0,0, 0,0,0,0,0,0,0,0,0,0, 0],
  [0,0,0,0,0,0,1.5,1.2,0.3,0.2, 1.2,0,0,0,0,0,0,0,0,1.9, 0.3,0,0,0,0,0,0,0,0,0, 0],
  [0,0,0,0,0,0,0,0.8,0.2,0, 0,0,0,0,0,0,0,0,0,0, 0.7,0,1.3,0,0,0,0,0,0,0, 0],
  [0,0,0,0,0,0,0.2,3.5,1.0,0.4, 0,0,0,0,0,0,0,0,0,0, 0,0,0,0,0,1.0,0,0.3,0,0, 0],
  [0,0,0,0,0,0,0,0.6,0.3,0, 0,0,0,0,0,0,0,0,0,0, 0,0,0,0,0,0,0,3.2,0.2,0, 0],
  [0,0,0,0,0,0,0.3,2.2,0.6,0, 0,0,0.8,0.2,0,0,0,0.3,0,0, 0,0,0,0,0,0,0,0,0,3.2, 0.5],
  [0,0,0,0,0,0,0,1.0,0.2,0, 0,0,0,0,0,0,0,0,0,0, 0.5,0,0,0,0,0,0,0,0,1.4, 0],
  [0,0,0,0,0,0,0.1,1.8,3.0,0.6, 0,0,0,0,1.0,0,0,0,0,0, 0,0,0,0,0,0,0,0,0,0, 0],
  [0,0,0,0,0,0,0,0.4,0.2,0, 0,0,0,0,0,0,0,0,0,0, 0,0,0,0,0,0,0,0,0,0, 0],
  [0,0,0,0,0,0,0.2,2.8,0.8,0.3, 0.5,0,0,0,0,0,0,0.8,0,0, 0,0,0,0,0,0,0,0,0,0, 0],
  [0,0,0,0,0,0,1.0,1.6,0.5,0.2, 0.4,0.2,0,0.3,0.6,0.2,0,0,0,0, 0,0.2,0,0,0,0,0,0,0.3,0, 0],
  [0,0,0,0,0,0,0.6,3.8,1.2,0.6, 0.3,0.5,0.2,0,0,0,0,0,0,0, 0,0,0,0,0.2,0,0,0,0,0, 0],
  [0,0.2,0,0,0,0,0.4,1.3,0.6,0.3, 0.8,0.2,0,0,0.2,0.4,0,0,0,0.2, 0,0,0,0,0,0,0,0,0,0.2, 0],
  [0,0,0,0,0,0,0.8,2.6,0.9,0.4, 0.2,0,0,0.5,0.2,0,0,0,0,0, 0.3,0,0,0,0,0,0,0,0,0, 0]
];
// hand-drawn red loop on the snow panel (day, cm)
var snowMarkDays = [2.79,3.18,3.64,3.95,4.10,4.18,4.33,4.48,4.41,4.25,4.02,3.49,2.95,2.56,2.41,2.33,2.23,2.26,2.41,2.59];
var snowMarkCm = [7.31,7.72,7.67,7.31,6.59,4.68,3.24,1.32,-0.60,-1.56,-2.16,-2.47,-2.47,-2.16,-1.56,-0.36,1.32,3.72,5.40,6.83];

var panels = [
  {unit: "mm", name: "Neerslag/6 uur", domain: [0, 20], ticks: precipTicks, dotted: precipLimit, dashed: [],
   control: precipControl, oper: precipOper, mean: precipMean, members: precipMembers},
  {unit: "mm", name: "Accum Neerslag", domain: [0, 70], ticks: accumTicks, dotted: [], dashed: [],
   control: accumControl, oper: accumOper, mean: accumMean, members: accumMembers},
  {unit: "m/s", name: "10m wind", domain: [0, 20], ticks: windTicks, dotted: windLimits, dashed: [],
   control: windControl, oper: windOper, mean: windMean, members: windMembers},
  {unit: "m/s", name: "Windstoten", domain: [0, 35], ticks: gustTicks, dotted: gustLimits, dashed: gustWarning,
   control: gustControl, oper: gustOper, mean: gustMean, members: gustMembers},
  {unit: "Celsius", name: "T2m", domain: [-20, 20], ticks: t2mTicks, dotted: [], dashed: [], zero: true,
   control: t2mControl, oper: t2mOper, mean: t2mMean, members: t2mMembers,
   mark: {days: t2mMarkDays, vals: t2mMarkTemp, closed: false}},
  {unit: "cm", name: "Sneeuwval/6 uur", domain: [0, 10], ticks: snowTicks, dotted: [], dashed: snowWarning,
   control: snowControl, oper: snowOper, mean: snowMean, members: snowMembers,
   mark: {days: snowMarkDays, vals: snowMarkCm, closed: true}}
];

var svg = d3.select("#chart");
var W = 326, H = 139;
var lefts = [35, 423.5];
var tops = [20.5, 204.3, 388.7];

// frame: blue dividers inside a light border
svg.append("rect").attr("x", 1).attr("y", 1).attr("width", 778).attr("height", 554)
  .attr("fill", "none").attr("stroke", "#a4a4f4").attr("stroke-width", 2);
[[392, 1, 392, 555], [1, 187.5, 779, 187.5], [1, 371, 779, 371]].forEach(function(l) {
  svg.append("line").attr("x1", l[0]).attr("y1", l[1]).attr("x2", l[2]).attr("y2", l[3])
    .attr("stroke", "#3434ff").attr("stroke-width", 1);
});

panels.forEach(function(p, i) {
  var left = lefts[i % 2], top = tops[Math.floor(i / 2)];
  var bottom = top + H, right = left + W;
  var g = svg.append("g");

  var x = d3.scaleLinear().domain([0, 360]).range([left, right]);
  var y = d3.scaleLinear().domain(p.domain).range([bottom, top]);

  // title
  g.append("text").attr("x", left + W / 2).attr("y", top - 5.5)
    .attr("text-anchor", "middle").attr("font-size", 11.5).attr("font-weight", "bold")
    .attr("textLength", 251).attr("lengthAdjust", "spacingAndGlyphs")
    .text("Maandag 11 Januari 2016 (starttijd Ma 00 UTC)");

  // reference lines
  p.dotted.forEach(function(v) {
    g.append("line").attr("x1", left).attr("x2", right).attr("y1", y(v)).attr("y2", y(v))
      .attr("stroke", "#000").attr("stroke-width", 1).attr("stroke-dasharray", "1,2");
  });
  p.dashed.forEach(function(v) {
    g.append("line").attr("x1", left).attr("x2", right).attr("y1", y(v)).attr("y2", y(v))
      .attr("stroke", "#ff00ff").attr("stroke-width", 1.5).attr("stroke-dasharray", "5,3");
  });

  // ensemble members
  var memberLine = d3.line().x(function(v, j) { return x(hoursMember[j]); }).y(function(v) { return y(v); });
  p.members.forEach(function(m) {
    g.append("path").attr("d", memberLine(m)).attr("fill", "none")
      .attr("stroke", "#72b23e").attr("stroke-opacity", 0.75).attr("stroke-width", 1);
  });

  if (p.zero) {
    g.append("line").attr("x1", left).attr("x2", right).attr("y1", y(0)).attr("y2", y(0))
      .attr("stroke", "#000").attr("stroke-width", 3);
  }

  var line6 = d3.line().x(function(v, j) { return x(hours6[j]); }).y(function(v) { return y(v); });
  var lineOper = d3.line().x(function(v, j) { return x(hoursOper[j]); }).y(function(v) { return y(v); });

  g.append("path").attr("d", lineOper(p.oper)).attr("fill", "none")
    .attr("stroke", "#ff0000").attr("stroke-width", 1.5);
  g.append("path").attr("d", line6(p.control)).attr("fill", "none")
    .attr("stroke", "#0000ff").attr("stroke-width", 1.5).attr("stroke-dasharray", "5,3");
  g.append("path").attr("d", line6(p.mean)).attr("fill", "none")
    .attr("stroke", "#7a1212").attr("stroke-width", 2.4).attr("stroke-dasharray", "2,2.2");

  // axes
  var yl = g.append("g").attr("transform", "translate(" + left + ",0)")
    .call(d3.axisLeft(y).tickValues(p.ticks).tickSize(4).tickSizeOuter(0).tickPadding(2));
  var yr = g.append("g").attr("transform", "translate(" + right + ",0)")
    .call(d3.axisRight(y).tickValues(p.ticks).tickSize(4).tickSizeOuter(0).tickPadding(2));
  [yl, yr].forEach(function(a) {
    a.attr("font-size", 9).attr("font-family", "Liberation Sans, Arial, sans-serif");
    a.select(".domain").attr("stroke", "#444").attr("stroke-width", 1.5);
    a.selectAll(".tick line").attr("stroke", "#444");
    a.selectAll(".tick text").attr("fill", "#000");
  });

  var xa = g.append("g").attr("transform", "translate(0," + bottom + ")")
    .call(d3.axisBottom(x).tickValues(dayTicks).tickSize(2).tickSizeOuter(0).tickPadding(1)
      .tickFormat(function() { return "00"; }));
  xa.attr("font-size", 5.5).attr("font-family", "Liberation Sans, Arial, sans-serif");
  xa.select(".domain").attr("stroke", "#666");
  xa.selectAll(".tick line").attr("stroke", "#888");
  xa.selectAll(".tick text").attr("fill", "#000");

  g.selectAll(".day").data(dayNames).enter().append("text")
    .attr("x", function(d, k) { return x(12 + 24 * k); }).attr("y", bottom + 10)
    .attr("text-anchor", "middle").attr("font-size", 8.5).text(function(d) { return d; });

  g.append("text").attr("x", left + W / 2).attr("y", bottom + 22.5).attr("text-anchor", "middle")
    .attr("font-size", 12).attr("font-weight", "bold").text("Dag");
  g.append("text").attr("x", right + 18).attr("y", bottom + 20).attr("text-anchor", "end")
    .attr("font-size", 7).attr("font-weight", "bold").attr("fill", "#0000ee").text("Bron: ECMWF/KNMI");

  g.append("text").attr("transform", "translate(" + (left - 19.5) + "," + (top + H / 2) + ") rotate(-90)")
    .attr("text-anchor", "middle").attr("dominant-baseline", "central")
    .attr("font-size", 11).attr("font-weight", "bold").text(p.unit);

  // station + parameter
  g.append("text").attr("x", right - 39).attr("y", top + 9.5).attr("text-anchor", "middle")
    .attr("font-size", 10).text("De Bilt");
  g.append("text").attr("x", right - 39).attr("y", top + 20.5).attr("text-anchor", "middle")
    .attr("font-size", 10).text(p.name);

  // legend
  var leg = [
    {label: "Control", color: "#2a2aff", width: 1.5, dash: "5,3"},
    {label: "Oper", color: "#ff1a1a", width: 1.6, dash: null},
    {label: "Ens mn", color: "#7a1212", width: 2.4, dash: "2,2.2"}
  ];
  leg.forEach(function(l, k) {
    var ly = top + 6.5 + k * 7;
    g.append("line").attr("x1", left + 3).attr("x2", left + 24).attr("y1", ly).attr("y2", ly)
      .attr("stroke", l.color).attr("stroke-width", l.width).attr("stroke-dasharray", l.dash);
    g.append("text").attr("x", left + 47).attr("y", ly + 2.5).attr("text-anchor", "middle")
      .attr("font-size", 7).attr("font-weight", "bold").attr("fill", "#222").text(l.label);
  });

  // hand-drawn marking
  if (p.mark) {
    var pts = p.mark.days.map(function(d, k) { return [d * 24, p.mark.vals[k]]; });
    var markLine = d3.line().x(function(d) { return x(d[0]); }).y(function(d) { return y(d[1]); })
      .curve(p.mark.closed ? d3.curveCatmullRomClosed : d3.curveCatmullRom);
    g.append("path").attr("d", markLine(pts)).attr("fill", "none")
      .attr("stroke", "#ff0000").attr("stroke-width", 2.5).attr("stroke-linejoin", "round");
  }
});
</script>
</body>
</html>
